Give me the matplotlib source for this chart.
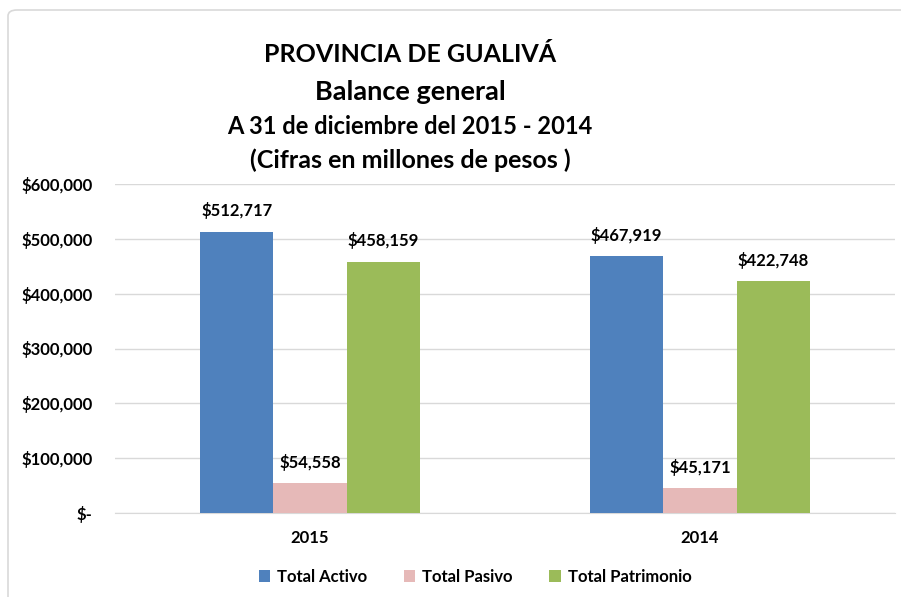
import matplotlib
matplotlib.use("Agg")
import matplotlib.pyplot as plt
from matplotlib.patches import FancyBboxPatch
import numpy as np

plt.rcParams['font.family'] = ['Lato', 'DejaVu Sans']

categories = ["2015", "2014"]
series_names = ["Total Activo", "Total Pasivo", "Total Patrimonio"]
total_activo = [512717, 467919]
total_pasivo = [54558, 45171]
total_patrimonio = [458159, 422748]
colors = ["#4f81bd", "#e6b9b8", "#9bbb59"]
yticks = [0, 100000, 200000, 300000, 400000, 500000, 600000]
ytick_labels = ["$-", "$100,000", "$200,000", "$300,000", "$400,000", "$500,000", "$600,000"]
title_lines = ["PROVINCIA DE GUALIVÁ", "Balance general",
               "A 31 de diciembre del 2015 - 2014", "(Cifras en millones de pesos )"]

fig = plt.figure(figsize=(9.01, 5.97), dpi=100)
frame = FancyBboxPatch((8/901, -0.05), 1.0, 1.0 - 10/597 + 0.05,
                       boxstyle="round,pad=0,rounding_size=0.01",
                       transform=fig.transFigure, facecolor="white",
                       edgecolor="#d9d9d9", linewidth=1.2, zorder=-5)
fig.patches.append(frame)

ax = fig.add_axes([115/901, 84/597, 780/901, 329/597])
ax.set_zorder(2)
x = np.arange(len(categories))
w = 0.188
all_series = [total_activo, total_pasivo, total_patrimonio]
for i, (vals, name, c) in enumerate(zip(all_series, series_names, colors)):
    bars = ax.bar(x + (i - 1) * w, vals, width=w, color=c, label=name, zorder=3)
    for b, v in zip(bars, vals):
        ax.annotate(f"${v:,}", (b.get_x() + b.get_width() / 2, v),
                    xytext=(0, 9), textcoords="offset points",
                    ha="center", va="bottom", fontsize=12, fontweight="bold", zorder=4)

ax.set_xlim(-0.5, 1.5)
ax.set_ylim(0, 600000)
ax.set_yticks(yticks)
ax.set_yticklabels(ytick_labels)
ax.set_xticks(x)
ax.set_xticklabels(categories)
for lab in ax.get_xticklabels() + ax.get_yticklabels():
    lab.set_fontweight("bold")
    lab.set_fontsize(12)
ax.tick_params(axis="both", length=0)
ax.tick_params(axis="y", pad=16)
ax.tick_params(axis="x", pad=12)
ax.grid(axis="y", color="#d9d9d9", linewidth=1, zorder=0)
for s in ["top", "right", "left"]:
    ax.spines[s].set_visible(False)
ax.spines["bottom"].set_color("#d9d9d9")
ax.set_facecolor("none")

ys = [55, 92, 127, 160]
sizes = [18, 19.5, 17, 18]
for t, yy, fs in zip(title_lines, ys, sizes):
    fig.text(410/901, 1 - yy/597, t, ha="center", va="center",
             fontsize=fs, fontweight="bold")

leg = fig.legend(loc="center", bbox_to_anchor=(475/901, 1 - 577/597), ncol=3,
                 frameon=False, handlelength=0.7, handleheight=0.7,
                 columnspacing=2.2, handletextpad=0.4,
                 prop={"weight": "bold", "size": 12})

fig.savefig("out.png", dpi=100)
